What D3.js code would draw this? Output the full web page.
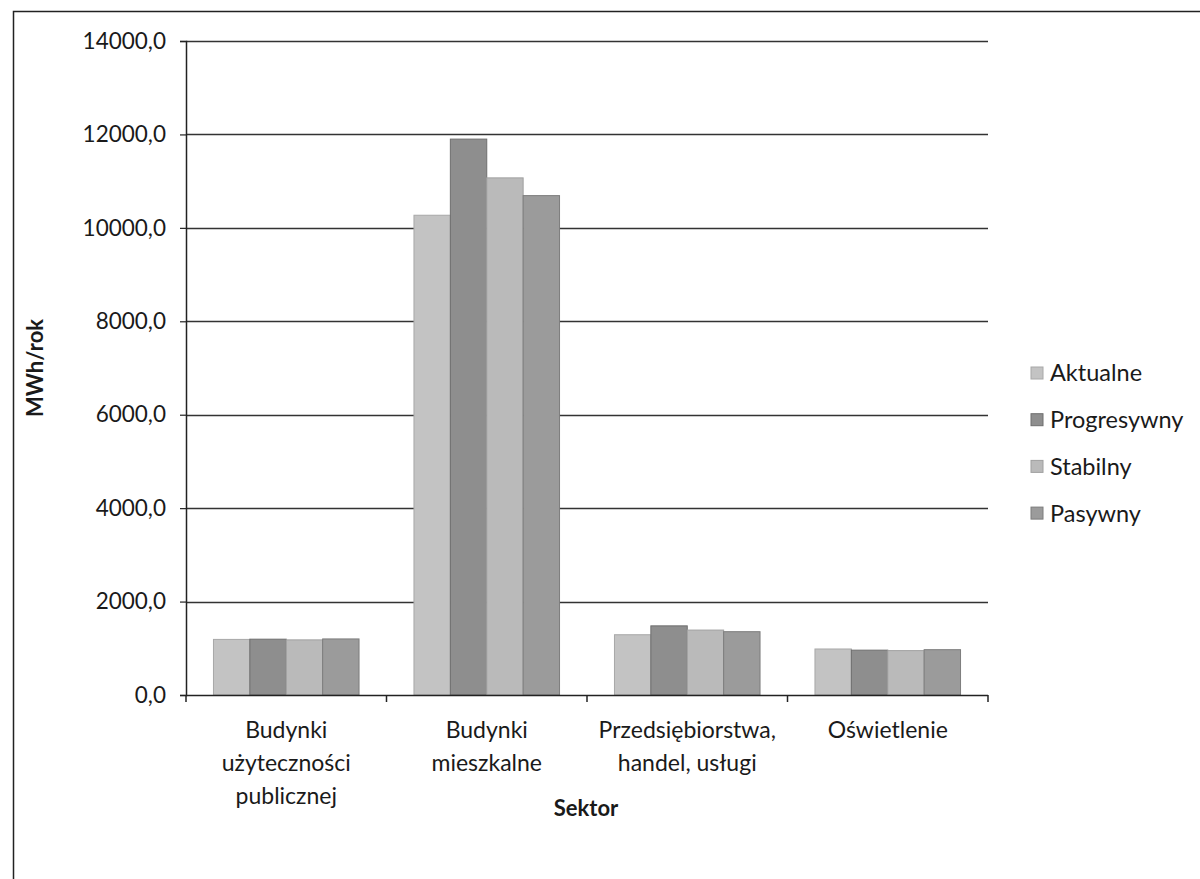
<!DOCTYPE html>
<html>
<head>
<meta charset="utf-8">
<script src="https://cdn.jsdelivr.net/npm/d3@7"></script>
<style>
  html, body { margin: 0; padding: 0; background: #fff; }
  svg { display: block; }
  text { font-family: Lato, "Open Sans", sans-serif; fill: #1a1a1a; }
</style>
</head>
<body>
<svg id="chart" width="1200" height="879"></svg>
<script>
// Energy use per sector (MWh/rok) in four scenarios
const categories = [
  ["Budynki", "użyteczności", "publicznej"],
  ["Budynki", "mieszkalne"],
  ["Przedsiębiorstwa,", "handel, usługi"],
  ["Oświetlenie"]
];
const series = ["Aktualne", "Progresywny", "Stabilny", "Pasywny"];
const aktualne    = [1190, 10270, 1290, 985];
const progresywny = [1195, 11900, 1480, 960];
const stabilny    = [1180, 11070, 1390, 950];
const pasywny     = [1200, 10690, 1355, 970];
const yTicks = [0, 2000, 4000, 6000, 8000, 10000, 12000, 14000];
const yTitle = "MWh/rok";
const xTitle = "Sektor";

const values = [aktualne, progresywny, stabilny, pasywny];
const fills   = ["#c3c3c3", "#8e8e8e", "#bababa", "#9b9b9b"];
const strokes = ["#a8a8a8", "#6e6e6e", "#a0a0a0", "#7c7c7c"];

const svg = d3.select("#chart");

// outer frame
svg.append("path")
  .attr("d", "M1200,11.5 H13.5 V879")
  .attr("fill", "none").attr("stroke", "#222").attr("stroke-width", 1.5);

const plot = { left: 186, right: 988, top: 41, bottom: 695 };
const catKeys = categories.map((c, i) => i);

const x0 = d3.scaleBand().domain(catKeys).range([plot.left, plot.right]);
const x1 = d3.scaleBand().domain(series)
  .range([x0.bandwidth() * 0.137, x0.bandwidth() * 0.863]);
const y = d3.scaleLinear().domain([0, 14000]).range([plot.bottom, plot.top]);

const fmt = v => d3.format(".1f")(v).replace(".", ",");

// gridlines
svg.append("g")
  .selectAll("line").data(yTicks.filter(t => t > 0)).join("line")
  .attr("x1", plot.left).attr("x2", plot.right)
  .attr("y1", d => Math.round(y(d)) + 0.5).attr("y2", d => Math.round(y(d)) + 0.5)
  .attr("stroke", "#333").attr("stroke-width", 1.4);

// y axis
const yAxis = svg.append("g")
  .attr("transform", `translate(${plot.left},0)`)
  .call(d3.axisLeft(y).tickValues(yTicks).tickFormat(fmt).tickSize(6).tickPadding(14));
yAxis.select(".domain").attr("stroke", "#222").attr("stroke-width", 1.5);
yAxis.selectAll(".tick line").attr("stroke", "#222").attr("stroke-width", 1.2);
yAxis.selectAll(".tick text")
  .style("font-family", "Lato, sans-serif").style("font-size", "22.5px").attr("fill", "#1a1a1a");

// bars
const groups = svg.append("g").selectAll("g").data(catKeys).join("g")
  .attr("transform", d => `translate(${x0(d)},0)`);
groups.selectAll("rect")
  .data(ci => series.map((s, si) => ({ s, si, v: values[si][ci] })))
  .join("rect")
  .attr("x", d => x1(d.s))
  .attr("width", x1.bandwidth())
  .attr("y", d => y(d.v))
  .attr("height", d => y(0) - y(d.v))
  .attr("fill", d => fills[d.si])
  .attr("stroke", d => strokes[d.si])
  .attr("stroke-width", 1);

// x axis
const xAxisG = svg.append("g");
xAxisG.append("line")
  .attr("x1", plot.left).attr("x2", plot.right)
  .attr("y1", plot.bottom + 0.5).attr("y2", plot.bottom + 0.5)
  .attr("stroke", "#222").attr("stroke-width", 1.5);
const boundaries = catKeys.map(k => x0(k)).concat([plot.right]);
xAxisG.selectAll("line.tk").data(boundaries).join("line").attr("class", "tk")
  .attr("x1", d => d).attr("x2", d => d)
  .attr("y1", plot.bottom).attr("y2", plot.bottom + 7)
  .attr("stroke", "#222").attr("stroke-width", 1.5);

// category labels
const labels = svg.append("g").selectAll("text").data(catKeys).join("text")
  .attr("text-anchor", "middle")
  .style("font-size", "23px")
  .attr("transform", d => `translate(${x0(d) + x0.bandwidth() / 2},${plot.bottom + 43})`);
labels.selectAll("tspan").data(d => categories[d]).join("tspan")
  .attr("x", 0).attr("dy", (d, i) => i === 0 ? 0 : 33)
  .text(d => d);

// axis titles
svg.append("text")
  .attr("x", (plot.left + plot.right) / 2 - 1).attr("y", 816)
  .attr("text-anchor", "middle")
  .style("font-size", "22px").style("font-weight", "bold")
  .text(xTitle);
svg.append("text")
  .attr("transform", `translate(43,368) rotate(-90)`)
  .attr("text-anchor", "middle")
  .style("font-size", "22px").style("font-weight", "bold")
  .text(yTitle);

// legend
const legend = svg.append("g").selectAll("g").data(series).join("g")
  .attr("transform", (d, i) => `translate(1031,${373 + i * 46.7})`);
legend.append("rect")
  .attr("x", 0).attr("y", -6).attr("width", 12).attr("height", 12)
  .attr("fill", (d, i) => fills[i]).attr("stroke", (d, i) => strokes[i]);
legend.append("text")
  .attr("x", 19).attr("y", 0).attr("dy", "0.36em")
  .style("font-size", "23.5px")
  .text(d => d);
</script>
</body>
</html>
